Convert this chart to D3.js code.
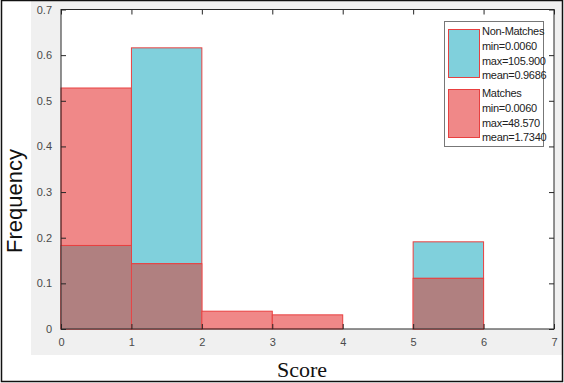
<!DOCTYPE html>
<html>
<head>
<meta charset="UTF-8">
<style>
  body { margin: 0; background: white; }
  svg text { font-family: "Liberation Sans", Arial, sans-serif; }
</style>
</head>
<body>
<svg id="chart" width="564" height="383"></svg>
<script src="https://d3js.org/d3.v7.min.js"></script>
<script>
  // histogram bins (score edges) and normalised frequencies
  let binStarts = [0, 1, 2, 3, 4, 5, 6];
  let nonMatches = [0.183, 0.616, 0, 0, 0, 0.191, 0];
  let matches = [0.528, 0.143, 0.039, 0.031, 0, 0.111, 0];
  let xTicks = [0, 1, 2, 3, 4, 5, 6, 7];
  let yTicks = [0, 0.1, 0.2, 0.3, 0.4, 0.5, 0.6, 0.7];
  let nonLegend = ["Non-Matches", "min=0.0060", "max=105.900", "mean=0.9686"];
  let matchLegend = ["Matches", "min=0.0060", "max=48.570", "mean=1.7340"];

  let cyan = "#80d0dc", pink = "#f08888", brown = "#b08080", edge = "#e84040";

  let svg = d3.select("#chart");

  // grey figure background + outer frame
  svg.append("rect").attr("x", 31).attr("y", 0).attr("width", 531).attr("height", 355).attr("fill", "#f0f0f0");
  svg.append("rect").attr("x", 1.5).attr("y", 0.5).attr("width", 561).attr("height", 381)
    .attr("fill", "none").attr("stroke", "#111").attr("stroke-width", 1.5);

  let x = d3.scaleLinear().domain([0, 7]).range([61, 554]);
  let y = d3.scaleLinear().domain([0, 0.7]).range([329, 9.5]);

  svg.append("rect").attr("x", x(0)).attr("y", y(0.7)).attr("width", x(7) - x(0)).attr("height", y(0) - y(0.7))
    .attr("fill", "white");

  let bins = binStarts.map((s, i) => ({ s: s, n: nonMatches[i], m: matches[i] }));

  let g = svg.append("g");
  // taller bar behind, then shorter, then overlap
  bins.forEach(d => {
    let layers = [{ v: d.n, c: cyan }, { v: d.m, c: pink }].filter(l => l.v > 0).sort((a, b) => b.v - a.v);
    layers.forEach(l => {
      g.append("rect").attr("x", x(d.s)).attr("y", y(l.v)).attr("width", x(d.s + 1) - x(d.s))
        .attr("height", y(0) - y(l.v)).attr("fill", l.c).attr("stroke", edge).attr("stroke-width", 1);
    });
    let lo = Math.min(d.n, d.m);
    if (lo > 0) {
      g.append("rect").attr("x", x(d.s) + 0.5).attr("y", y(lo)).attr("width", x(d.s + 1) - x(d.s) - 1)
        .attr("height", y(0) - y(lo)).attr("fill", brown);
      g.append("line").attr("x1", x(d.s)).attr("x2", x(d.s + 1)).attr("y1", y(lo)).attr("y2", y(lo))
        .attr("stroke", edge).attr("stroke-width", 1);
    }
  });

  // axes box
  svg.append("rect").attr("x", x(0)).attr("y", y(0.7)).attr("width", x(7) - x(0)).attr("height", y(0) - y(0.7))
    .attr("fill", "none").attr("stroke", "#262626").attr("stroke-width", 1);

  let ax = svg.append("g").attr("transform", "translate(0," + y(0) + ")")
    .call(d3.axisBottom(x).tickValues(xTicks).tickSize(-5).tickPadding(9).tickFormat(d3.format("d")));
  let axTop = svg.append("g").attr("transform", "translate(0," + y(0.7) + ")")
    .call(d3.axisTop(x).tickValues(xTicks).tickSize(-5).tickFormat(""));
  let ay = svg.append("g").attr("transform", "translate(" + x(0) + ",0)")
    .call(d3.axisLeft(y).tickValues(yTicks).tickSize(-5).tickPadding(9).tickFormat(d => d === 0 ? "0" : d3.format(".1f")(d)));
  let ayR = svg.append("g").attr("transform", "translate(" + x(7) + ",0)")
    .call(d3.axisRight(y).tickValues(yTicks).tickSize(-5).tickFormat(""));
  [ax, axTop, ay, ayR].forEach(a => {
    a.select(".domain").remove();
    a.selectAll("line").attr("stroke", "#262626");
    a.selectAll("text").attr("fill", "#4a4a4a").style("font-size", "11px");
  });

  // axis labels
  svg.append("text").attr("transform", "translate(22,201) rotate(-90)").attr("text-anchor", "middle")
    .style("font-size", "22px").attr("fill", "#111").text("Frequency");
  svg.append("text").attr("x", 302).attr("y", 377).attr("text-anchor", "middle")
    .style("font-family", "'Liberation Serif', 'Times New Roman', serif").style("font-size", "22px")
    .attr("fill", "#111").text("Score");

  // legend
  let lg = svg.append("g");
  lg.append("rect").attr("x", 444.5).attr("y", 21.5).attr("width", 99).attr("height", 125)
    .attr("fill", "white").attr("stroke", "#777").attr("stroke-width", 1);
  [[nonLegend, cyan, 29, 35], [matchLegend, pink, 89, 97]].forEach(([lines, c, top, base]) => {
    lg.append("rect").attr("x", 448.5).attr("y", top + 0.5).attr("width", 31).attr("height", 48)
      .attr("fill", c).attr("stroke", edge).attr("stroke-width", 1);
    lines.forEach((t, i) => {
      lg.append("text").attr("x", 482).attr("y", base + i * 14.8).style("font-size", "11px")
        .style("letter-spacing", "-0.3px").attr("fill", "#222").text(t);
    });
  });
</script>
</body>
</html>
